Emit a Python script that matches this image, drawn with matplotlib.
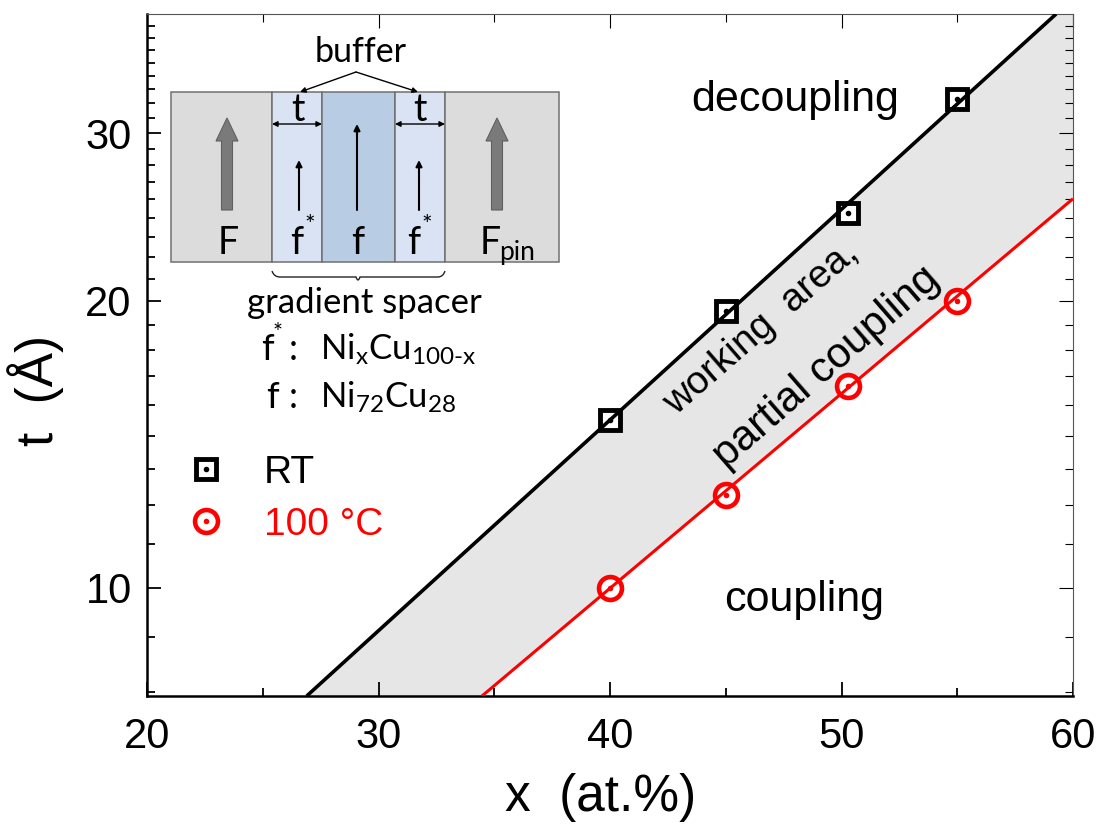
import matplotlib
matplotlib.use('Agg')
import matplotlib.pyplot as plt
from matplotlib.legend_handler import HandlerTuple
from matplotlib.patches import Rectangle, FancyArrow, PathPatch
from matplotlib.path import Path
from matplotlib.ticker import NullFormatter

plt.rcParams['font.family'] = ['Liberation Sans', 'DejaVu Sans']
plt.rcParams['mathtext.fontset'] = 'custom'
plt.rcParams['mathtext.rm'] = 'Lato'
plt.rcParams['mathtext.it'] = 'Lato'

# measured points
x_points = [40, 45, 50.3, 55]
t_rt = [15.0, 19.5, 24.75, 32.6]
t_100 = [10.0, 12.5, 16.3, 20.0]

# boundary lines, drawn by hand in the original so they miss some points
x_line_rt = [26.9, 59.27]
t_line_rt = [7.7, 40]
x_line_100 = [34.47, 60]
t_line_100 = [7.7, 25.6]

x_major = [20, 30, 40, 50, 60]
x_minor = [25, 35, 45, 55]
t_major = [10, 20, 30]
# ticks are linear with a step of 10/9
t_minor = [10 * k / 9 for k in range(7, 36) if k % 9 != 0]

fig = plt.figure(figsize=(11.02, 8.26), dpi=100)
ax = fig.add_axes([147 / 1102, 1 - 696 / 826, 926 / 1102, 682 / 826])
ax.set_yscale('log')
ax.set_xlim(20, 60)
ax.set_ylim(7.7, 40)

# working area
ax.fill(x_line_rt + [60, 60] + x_line_100[::-1],
        t_line_rt + [40, 25.6] + t_line_100[::-1], color='#e6e6e6', lw=0, zorder=1)

sq, = ax.plot(x_points, t_rt, 's', ms=15, mew=3.5, mec='k', mfc='white', zorder=2)
ci, = ax.plot(x_points, t_100, 'o', ms=16.5, mew=3.3, mec='#ff0000', mfc='white', zorder=2)
ax.plot(x_line_rt, t_line_rt, color='k', lw=2.6, zorder=3, solid_capstyle='butt')
ax.plot(x_line_100, t_line_100, color='#ff0000', lw=2.2, zorder=3, solid_capstyle='butt')
sq_dot, = ax.plot(x_points, t_rt, 'o', ms=4, mew=0, color='k', zorder=4)
ci_dot, = ax.plot(x_points, t_100, 'o', ms=4, mew=0, color='#ff0000', zorder=4)

ax.set_xticks(x_major)
ax.set_xticks(x_minor, minor=True)
ax.set_yticks(t_major, labels=[str(v) for v in t_major])
ax.set_yticks(t_minor, minor=True)
ax.yaxis.set_minor_formatter(NullFormatter())
ax.tick_params(which='major', direction='in', top=True, right=True, length=10, width=1.3, labelsize=30)
ax.tick_params(which='minor', direction='in', top=True, right=True, length=6, width=1.3)
ax.tick_params(axis='x', which='major', pad=15)
ax.tick_params(axis='y', which='major', pad=11)

# top and right side are thin and gray
for axis in [ax.xaxis, ax.yaxis]:
    for tick in axis.get_major_ticks() + axis.get_minor_ticks():
        tick.tick2line.set_markeredgewidth(0.8)
        tick.tick2line.set_color('#555555')
for side in ['top', 'right']:
    ax.spines[side].set_linewidth(0.8)
    ax.spines[side].set_color('#555555')
for side in ['left', 'bottom']:
    ax.spines[side].set_linewidth(1.8)

ax.set_xlabel('x  (at.%)', fontsize=37)
ax.xaxis.set_label_coords((601 - 147) / 926, -0.113)
ax.set_ylabel('t  (Å)', fontsize=37)
ax.yaxis.set_label_coords(-0.09, (696 - 390) / 682)

leg = ax.legend([(sq, sq_dot), (ci, ci_dot)], ['RT', '100 °C'], handler_map={tuple: HandlerTuple(ndivide=1)},
                loc='upper left', bbox_to_anchor=(194 / 1102, 1 - 455 / 826), bbox_transform=fig.transFigure,
                frameon=False, fontsize=28, borderpad=0, borderaxespad=0,
                handlelength=0.6, handletextpad=1.2, labelspacing=0.4)
leg.get_texts()[1].set_color('#ff0000')

# overlay in picture pixels for the region labels and the layer sketch
ov = fig.add_axes([0, 0, 1, 1])
ov.set_xlim(0, 1102)
ov.set_ylim(826, 0)
ov.axis('off')

ov.text(795, 100, 'decoupling', fontsize=31, ha='center', va='center')
ov.text(804, 600, 'coupling', fontsize=31, ha='center', va='center')
ov.text(761, 328, 'working  area,', fontsize=28, ha='center', va='center', rotation=41, rotation_mode='anchor')
ov.text(827, 367, 'partial coupling', fontsize=30.5, ha='center', va='center', rotation=41, rotation_mode='anchor')

# layer stack
layers = [(171, 272, '#dcdcdc'), (272, 322, '#dae3f3'), (322, 395, '#b8cce4'),
          (395, 445, '#dae3f3'), (445, 559, '#dcdcdc')]
for x0, x1, c in layers:
    ov.add_patch(Rectangle((x0, 92), x1 - x0, 170, fc=c, ec='#707070', lw=1.1))

for x in [227, 497]:
    ov.add_patch(FancyArrow(x, 210, 0, -92, width=11, head_width=22, head_length=23,
                            length_includes_head=True, fc='#7a7a7a', ec='#606060', lw=0.8))
for x, top in [(299, 160), (357, 124), (419, 160)]:
    ov.annotate('', xy=(x, top), xytext=(x, 210),
                arrowprops=dict(arrowstyle='-|>', color='k', lw=1.5, mutation_scale=9, shrinkA=0, shrinkB=0))
for x0, x1 in [(272, 322), (395, 445)]:
    ov.annotate('', xy=(x0, 124), xytext=(x1, 124),
                arrowprops=dict(arrowstyle='<|-|>', color='k', lw=1, mutation_scale=8, shrinkA=0, shrinkB=0))
for x in [300, 418]:
    ov.annotate('', xy=(x, 92), xytext=(356, 72),
                arrowprops=dict(arrowstyle='-|>', color='k', lw=1, mutation_scale=8, shrinkA=0, shrinkB=0))

brace = Path([(272, 271), (274, 277), (280, 277), (290, 277), (320, 277), (350, 277), (356, 277), (358, 283),
              (360, 277), (366, 277), (380, 277), (410, 277), (438, 277), (443, 277), (445, 271)],
             [Path.MOVETO] + [Path.CURVE3] * 14)
ov.add_patch(PathPatch(brace, fc='none', ec='#222222', lw=1))

inset_font = ['Lato', 'DejaVu Sans']
ov.text(361, 52, 'buffer', fontsize=24.5, ha='center', va='center', family=inset_font)
ov.text(298, 110, 't', fontsize=27, ha='center', va='center', family=inset_font)
ov.text(420, 110, 't', fontsize=27, ha='center', va='center', family=inset_font)
ov.text(228, 254, 'F', fontsize=27, ha='center', va='baseline', family=inset_font)
ov.text(297, 254, 'f', fontsize=27, ha='center', va='baseline', family=inset_font)
ov.text(310, 226, '*', fontsize=18, ha='center', va='center', family=inset_font)
ov.text(358, 254, 'f', fontsize=27, ha='center', va='baseline', family=inset_font)
ov.text(414, 254, 'f', fontsize=27, ha='center', va='baseline', family=inset_font)
ov.text(427, 226, '*', fontsize=18, ha='center', va='center', family=inset_font)
ov.text(480, 254, 'F', fontsize=27, ha='left', va='baseline', family=inset_font)
ov.text(499, 260, 'pin', fontsize=19, ha='left', va='baseline', family=inset_font)
ov.text(364, 303, 'gradient spacer', fontsize=25, ha='center', va='center', family=inset_font)

ov.text(261, 360, 'f', fontsize=26, ha='left', va='baseline', family=inset_font)
ov.text(278, 332, '*', fontsize=17, ha='center', va='center', family=inset_font)
ov.text(289, 360, ':', fontsize=26, ha='left', va='baseline', family=inset_font)
ov.text(320, 360, r'Ni$_{\mathrm{x}}$Cu$_{\mathrm{100\text{-}x}}$', fontsize=25, ha='left', va='baseline', family=inset_font)
ov.text(266, 408, 'f', fontsize=26, ha='left', va='baseline', family=inset_font)
ov.text(289, 408, ':', fontsize=26, ha='left', va='baseline', family=inset_font)
ov.text(320, 408, r'Ni$_{\mathrm{72}}$Cu$_{\mathrm{28}}$', fontsize=25, ha='left', va='baseline', family=inset_font)

fig.savefig('out.png', dpi=100)
